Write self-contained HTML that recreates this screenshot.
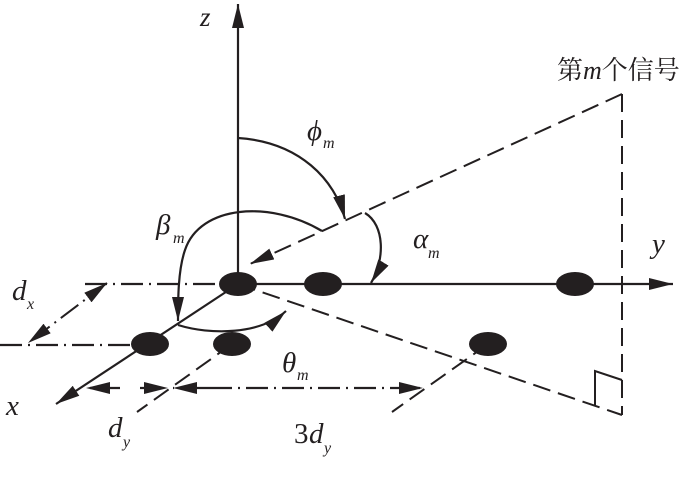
<!DOCTYPE html>
<html><head><meta charset="utf-8"><style>
html,body{margin:0;padding:0;background:#fff;}
svg{display:block;}
text{font-family:"Liberation Serif","Noto Serif CJK SC",serif;font-style:italic;fill:#231f20;}
</style></head><body>
<svg width="700" height="489" viewBox="0 0 700 489" xmlns="http://www.w3.org/2000/svg">
<defs>
<marker id="a" viewBox="0 0 24 12" refX="24" refY="6" markerWidth="24" markerHeight="12" markerUnits="userSpaceOnUse" orient="auto"><path d="M0,0 L24,6 L0,12 z" fill="#231f20"/></marker>
<marker id="s" viewBox="0 0 24 12" refX="24" refY="6" markerWidth="24" markerHeight="12" markerUnits="userSpaceOnUse" orient="auto-start-reverse"><path d="M0,0 L24,6 L0,12 z" fill="#231f20"/></marker>
</defs>
<g stroke="#231f20" stroke-width="2.2" fill="none">
<line x1="238" y1="284" x2="238" y2="4" marker-end="url(#a)"/>
<line x1="238" y1="284" x2="673" y2="284" marker-end="url(#a)"/>
<line x1="238" y1="284" x2="56" y2="404" marker-end="url(#a)"/>
<g stroke-dasharray="22,6,2,6">
<line x1="85" y1="284" x2="225" y2="284"/>
<line x1="0" y1="345" x2="140" y2="345"/>
<line x1="107" y1="283" x2="28" y2="343" marker-start="url(#s)" marker-end="url(#a)" stroke-width="2"/>
<line x1="120" y1="388" x2="86" y2="388" marker-end="url(#a)"/>
<line x1="140" y1="388" x2="168" y2="388" marker-end="url(#a)"/>
<line x1="210" y1="388" x2="173" y2="388" marker-end="url(#a)"/>
<line x1="210" y1="388" x2="423" y2="388" marker-end="url(#a)"/>
</g>
<g stroke-dasharray="18,8" stroke-width="2">
<line x1="232" y1="344" x2="137" y2="412"/>
<line x1="488" y1="344" x2="392" y2="412"/>
<line x1="622" y1="94" x2="250" y2="264" marker-end="url(#a)"/>
<line x1="238" y1="284" x2="622" y2="415"/>
<line x1="622" y1="94" x2="622" y2="415"/>
</g>
<polyline points="595,405 595,371 622,380" stroke-width="2"/>
<path d="M238,138 C300,142 335,180 345,219" marker-end="url(#a)"/>
<path d="M322,231 C270,200 200,205 185,250 C178,270 178,300 178,321" marker-end="url(#a)"/>
<path d="M178,325 C210,335 260,335 286,311" marker-end="url(#a)"/>
<path d="M365,213 C385,225 385,260 371,283" marker-end="url(#a)"/>
</g>
<g fill="#231f20">
<ellipse cx="238" cy="284" rx="19" ry="12"/>
<ellipse cx="323" cy="284" rx="19" ry="12"/>
<ellipse cx="575" cy="284" rx="19" ry="12"/>
<ellipse cx="150" cy="344" rx="19" ry="12"/>
<ellipse cx="232" cy="344" rx="19" ry="12"/>
<ellipse cx="488" cy="344" rx="19" ry="12"/>
</g>
<text x="200" y="26" font-size="27">z</text>
<text x="307" y="140" font-size="29">ϕ</text><text x="323" y="148" font-size="16">m</text>
<text x="156" y="234" font-size="29">β</text><text x="173" y="243" font-size="16">m</text>
<text x="413" y="248" font-size="29">α</text><text x="428" y="258" font-size="16">m</text>
<text x="652" y="253" font-size="29">y</text>
<text x="12" y="300" font-size="29">d</text><text x="27" y="309" font-size="16">x</text>
<text x="6" y="415" font-size="29">x</text>
<text x="108" y="437" font-size="29">d</text><text x="123" y="447" font-size="16">y</text>
<text x="294" y="443" font-size="29" style="font-style:normal">3</text><text x="309" y="443" font-size="29">d</text><text x="324" y="453" font-size="16">y</text>
<text x="282" y="372" font-size="29">θ</text><text x="297" y="380" font-size="16">m</text>
<text x="557" y="79" font-size="26" style="font-style:normal">第<tspan style="font-style:italic">m</tspan>个信号</text>
</svg>
</body></html>
